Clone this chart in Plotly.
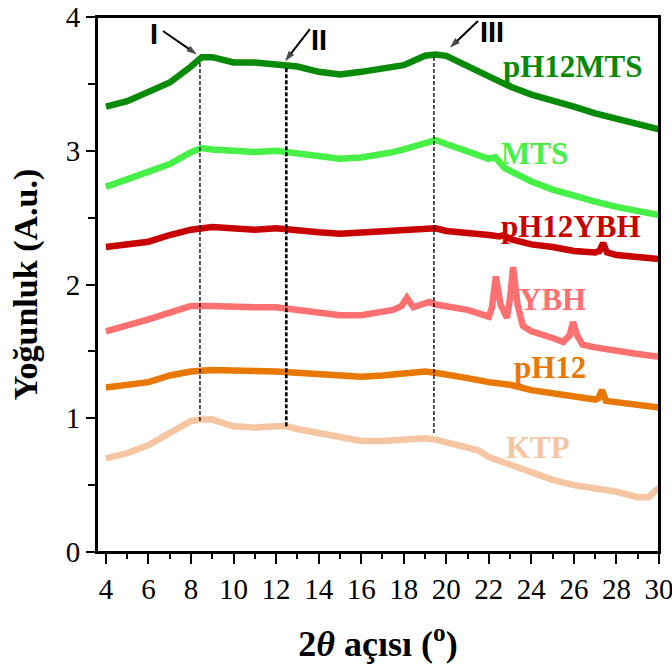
import plotly.graph_objects as go

# ---------------- data ----------------
x_ph12mts = [4, 5, 6, 7, 8, 8.5, 9, 10, 11, 12, 12.5, 13, 14, 15, 16, 17, 18, 19, 19.5, 20, 21, 22, 23, 24, 25, 26, 27, 28, 29, 30]
y_ph12mts = [3.33, 3.37, 3.44, 3.51, 3.63, 3.70, 3.70, 3.66, 3.66, 3.65, 3.64, 3.63, 3.59, 3.57, 3.59, 3.61, 3.64, 3.71, 3.72, 3.71, 3.63, 3.56, 3.48, 3.42, 3.38, 3.33, 3.28, 3.24, 3.20, 3.16]

x_mts = [4, 5, 6, 7, 8, 8.5, 9, 10, 11, 12, 12.5, 13, 14, 15, 16, 17, 17.5, 18, 19, 19.5, 20, 21, 22, 22.3, 22.75, 23, 24, 25, 26, 27, 28, 29, 30]
y_mts = [2.73, 2.79, 2.84, 2.90, 2.99, 3.02, 3.01, 3.00, 2.99, 3.00, 2.99, 2.97, 2.95, 2.94, 2.95, 2.97, 2.99, 3.01, 3.06, 3.08, 3.05, 2.99, 2.94, 2.95, 2.87, 2.85, 2.77, 2.71, 2.66, 2.62, 2.58, 2.55, 2.52]

x_ph12ybh = [4, 5, 6, 7, 8, 9, 10, 11, 12, 13, 14, 15, 16, 17, 18, 19, 19.5, 20, 21, 22, 22.5, 22.7, 23, 24, 25, 26, 27, 27.2, 27.37, 27.55, 28, 29, 30]
y_ph12ybh = [2.28, 2.30, 2.32, 2.37, 2.41, 2.43, 2.42, 2.41, 2.42, 2.40, 2.39, 2.38, 2.39, 2.39, 2.40, 2.41, 2.42, 2.40, 2.39, 2.37, 2.36, 2.37, 2.34, 2.30, 2.28, 2.25, 2.24, 2.25, 2.31, 2.24, 2.22, 2.20, 2.19]

x_ybh = [4, 5, 6, 7, 8, 9, 10, 11, 12, 12.5, 13, 14, 15, 16, 17, 17.5, 17.9, 18.15, 18.45, 19.2, 19.5, 20, 21, 22, 22.15, 22.33, 22.55, 22.85, 23.0, 23.14, 23.35, 23.6, 24, 25, 25.5, 25.8, 25.96, 26.15, 26.4, 27, 28, 29, 30]
y_ybh = [1.65, 1.69, 1.74, 1.79, 1.84, 1.84, 1.83, 1.83, 1.83, 1.82, 1.80, 1.78, 1.77, 1.77, 1.79, 1.81, 1.84, 1.90, 1.83, 1.87, 1.85, 1.84, 1.81, 1.76, 1.83, 2.06, 1.85, 1.75, 1.90, 2.13, 1.85, 1.69, 1.65, 1.60, 1.57, 1.62, 1.72, 1.62, 1.55, 1.53, 1.50, 1.48, 1.46]

x_ph12 = [4, 5, 6, 7, 8, 9, 10, 11, 12, 13, 14, 15, 16, 17, 18, 19, 19.5, 20, 21, 22, 23, 24, 25, 26, 27, 27.15, 27.32, 27.5, 28, 29, 30]
y_ph12 = [1.23, 1.25, 1.27, 1.32, 1.35, 1.36, 1.36, 1.35, 1.35, 1.34, 1.33, 1.31, 1.31, 1.32, 1.34, 1.35, 1.34, 1.33, 1.30, 1.27, 1.25, 1.21, 1.19, 1.16, 1.14, 1.15, 1.21, 1.13, 1.12, 1.10, 1.08]

x_ktp = [4, 5, 6, 7, 8, 8.5, 9, 10, 11, 12, 12.5, 13, 14, 15, 16, 17, 18, 19, 19.5, 20, 21, 21.5, 22, 23, 24, 25, 26, 27, 28, 29, 29.5, 30]
y_ktp = [0.70, 0.74, 0.80, 0.89, 0.98, 0.99, 0.99, 0.94, 0.93, 0.94, 0.94, 0.92, 0.89, 0.85, 0.83, 0.83, 0.84, 0.85, 0.84, 0.82, 0.79, 0.76, 0.71, 0.65, 0.59, 0.54, 0.50, 0.48, 0.45, 0.41, 0.41, 0.48]

series_names = ["pH12MTS", "MTS", "pH12YBH", "YBH", "pH12", "KTP"]
series_colors = ["#078a07", "#46f046", "#c80000", "#ff7070", "#e97800", "#f6c5a2"]
series_x = [x_ph12mts, x_mts, x_ph12ybh, x_ybh, x_ph12, x_ktp]
series_y = [y_ph12mts, y_mts, y_ph12ybh, y_ybh, y_ph12, y_ktp]

# label positions (data coords)
label_x = [25.96, 24.17, 25.86, 25.0, 24.87, 24.3]
label_y = [3.63, 2.98, 2.43, 1.89, 1.38, 0.78]

# vertical reference lines I, II, III
ref_x = [8.42, 12.48, 19.42]
ref_y0 = [0.98, 0.94, 0.89]
ref_y1 = [3.66, 3.62, 3.70]
ref_width = [1.3, 2.6, 1.3]

# roman numeral labels and arrows
roman_text = ["I", "II", "III"]
roman_x = [6.26, 14.01, 22.15]
roman_y = [3.87, 3.83, 3.89]
arrow_tail_x = [6.68, 13.59, 21.49]
arrow_tail_y = [3.895, 3.91, 3.97]
arrow_head_x = [8.28, 12.42, 20.17]
arrow_head_y = [3.72, 3.67, 3.77]

x_ticks = list(range(4, 31, 2))
y_ticks = [0, 1, 2, 3, 4]

# ---------------- figure ----------------
fig = go.Figure()
for name, col, xs, ys in zip(series_names, series_colors, series_x, series_y):
    fig.add_trace(go.Scatter(x=xs, y=ys, mode="lines", name=name,
                             line=dict(color=col, width=6.5), showlegend=False))

for xv, y0, y1, w in zip(ref_x, ref_y0, ref_y1, ref_width):
    fig.add_trace(go.Scatter(x=[xv, xv], y=[y0, y1], mode="lines", showlegend=False,
                             line=dict(color="black", width=w, dash="4px,2px")))

for tx, ty, hx, hy in zip(arrow_tail_x, arrow_tail_y, arrow_head_x, arrow_head_y):
    fig.add_trace(go.Scatter(x=[tx, hx], y=[ty, hy], mode="lines+markers", showlegend=False,
                             line=dict(color="black", width=2),
                             marker=dict(symbol=["circle", "arrow"], size=[0, 11],
                                         angleref="previous", color="black",
                                         line=dict(width=0))))

annotations = []
for name, col, lx, ly in zip(series_names, series_colors, label_x, label_y):
    annotations.append(dict(x=lx, y=ly, xref="x", yref="y", text="<b>%s</b>" % name,
                            showarrow=False, xanchor="center", yanchor="middle",
                            font=dict(family="Liberation Serif", size=31, color=col)))
for t, rx, ry in zip(roman_text, roman_x, roman_y):
    annotations.append(dict(x=rx, y=ry, xref="x", yref="y", text="<b>%s</b>" % t,
                            showarrow=False, xanchor="center", yanchor="middle",
                            font=dict(family="Liberation Sans", size=29, color="black")))

fig.update_layout(
    width=672, height=670,
    margin=dict(l=97, r=13, t=17, b=118),
    paper_bgcolor="white", plot_bgcolor="white",
    font=dict(family="Liberation Serif", color="black"),
    annotations=annotations,
    shapes=[dict(type="rect", xref="paper", yref="paper", x0=0, x1=1, y0=0, y1=1,
                 line=dict(color="black", width=2), layer="above")],
    xaxis=dict(range=[3.58, 30], tickvals=x_ticks, ticks="outside", ticklen=10, tickwidth=2,
               tickcolor="black", showline=True, linewidth=2, linecolor="black", mirror=True,
               showgrid=False, zeroline=False, automargin=False, ticklabeloverflow="allow",
               tickfont=dict(family="Liberation Serif", size=29, color="black"),
               minor=dict(dtick=1, tick0=5, ticks="outside", ticklen=5, tickwidth=2, tickcolor="black"),
               title=dict(text="<b>2<i>θ</i> açısı (<sup>o</sup>)</b>", standoff=27,
                          font=dict(family="Liberation Serif", size=36, color="black"))),
    yaxis=dict(range=[0, 4], tickvals=y_ticks, ticks="outside", ticklen=9, tickwidth=2,
               tickcolor="black", showline=True, linewidth=2, linecolor="black", mirror=True,
               showgrid=False, zeroline=False, automargin=False, ticklabeloverflow="allow",
               tickfont=dict(family="Liberation Serif", size=29, color="black"),
               minor=dict(dtick=0.5, tick0=0.5, ticks="outside", ticklen=7, tickwidth=2, tickcolor="black"),
               title=dict(text="<b>Yoğunluk (A.u.)</b>", standoff=18,
                          font=dict(family="Liberation Serif", size=34, color="black"))),
)

fig.write_html("out.html")
